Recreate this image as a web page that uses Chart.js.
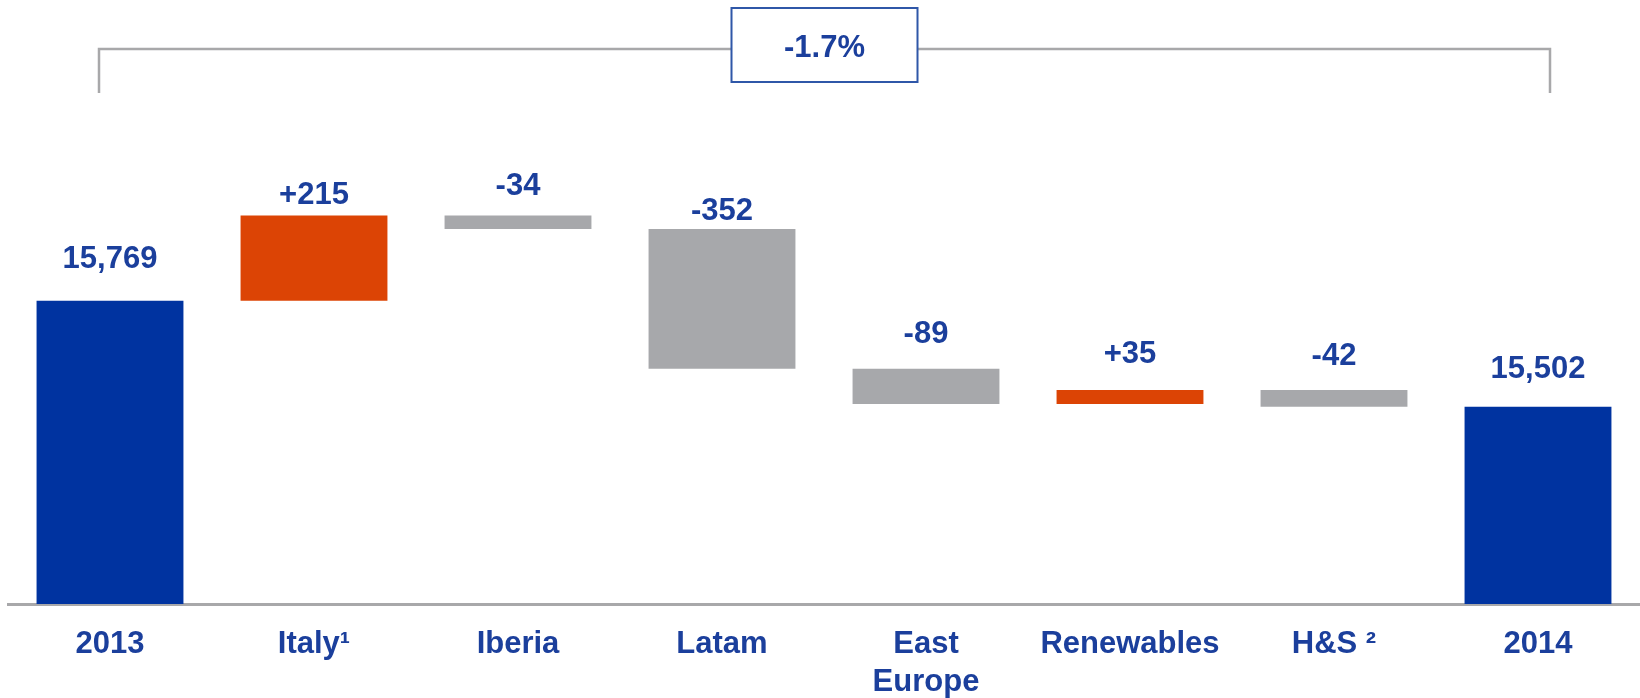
<!DOCTYPE html>
<html>
<head>
<meta charset="utf-8">
<title>EBITDA bridge 2013-2014</title>
<script src="https://cdn.jsdelivr.net/npm/chart.js@4.4.1/dist/chart.umd.min.js"></script>
<style>
    html, body { margin: 0; padding: 0; background: #ffffff; }
    #wrap { position: relative; width: 1640px; height: 698px; }
</style>
</head>
<body>
<div id="wrap"><canvas id="bridgeChart"></canvas></div>
<script>
// Bridge data
const categories = ['2013', 'Italy¹', 'Iberia', 'Latam', ['East', 'Europe'], 'Renewables', 'H&S ²', '2014'];
const startTotal = 15769;
const endTotal = 15502;
const deltas = [215, -34, -352, -89, 35, -42];

const BLUE = '#0033a0';
const TEXT_BLUE = '#1b3f9c';
const ORANGE = '#dc4405';
const GREY = '#a7a8ab';
const LINE_GREY = '#a8a8aa';
const FONT = "'Liberation Sans', Arial, sans-serif";

// floating ranges for the deltas, plain values for the two totals
const barData = [startTotal];
const barColors = [BLUE];
const labels = [startTotal.toLocaleString('en-US')];
let running = startTotal;
deltas.forEach(d => {
    barData.push([running, running + d]);
    barColors.push(d >= 0 ? ORANGE : GREY);
    labels.push((d >= 0 ? '+' : '') + d);
    running += d;
});
barData.push(endTotal);
barColors.push(BLUE);
labels.push(endTotal.toLocaleString('en-US'));

const changePct = ((endTotal - startTotal) / startTotal * 100).toFixed(1) + '%';

const valueLabels = {
    id: 'valueLabels',
    afterDatasetsDraw(chart, args, opts) {
        const ctx = chart.ctx;
        const meta = chart.getDatasetMeta(0);
        ctx.save();
        ctx.font = `bold 31px ${FONT}`;
        ctx.fillStyle = TEXT_BLUE;
        ctx.textAlign = 'center';
        ctx.textBaseline = 'middle';
        meta.data.forEach((bar, i) => {
            const top = Math.min(bar.y, bar.base);
            ctx.fillText(labels[i], bar.x, top - opts.gaps[i]);
        });
        ctx.restore();
    },
};

// bracket over the whole bridge with the overall change in a box
const changeBracket = {
    id: 'changeBracket',
    afterDraw(chart) {
        const ctx = chart.ctx;
        const x = chart.scales.x;
        const left = x.getPixelForValue(0) - 11;
        const right = x.getPixelForValue(categories.length - 1) + 12;
        const y = 49;
        const mid = (left + right) / 2;
        ctx.save();
        ctx.strokeStyle = LINE_GREY;
        ctx.lineWidth = 2.5;
        ctx.beginPath();
        ctx.moveTo(left, 93);
        ctx.lineTo(left, y);
        ctx.lineTo(right, y);
        ctx.lineTo(right, 93);
        ctx.stroke();

        const w = 186, h = 74;
        ctx.fillStyle = '#ffffff';
        ctx.fillRect(mid - w / 2, 8, w, h);
        ctx.strokeStyle = '#2f57a8';
        ctx.lineWidth = 2;
        ctx.strokeRect(mid - w / 2, 8, w, h);

        ctx.font = `bold 31px ${FONT}`;
        ctx.fillStyle = TEXT_BLUE;
        ctx.textAlign = 'center';
        ctx.textBaseline = 'middle';
        ctx.fillText(changePct, mid, 48);
        ctx.restore();
    },
};

new Chart(document.getElementById('bridgeChart'), {
    type: 'bar',
    data: {
        labels: categories,
        datasets: [{
            data: barData,
            backgroundColor: barColors,
            borderWidth: 0,
            borderSkipped: false,
            categoryPercentage: 1,
            barPercentage: 0.72,
        }],
    },
    options: {
        responsive: true,
        maintainAspectRatio: false,
        animation: false,
        layout: {
            padding: { left: 8, right: 0, top: 104, bottom: 0 },
        },
        plugins: {
            legend: { display: false },
            tooltip: { enabled: false },
            valueLabels: {
                gaps: [41, 20, 29, 18, 34, 36, 34, 37],
            },
        },
        scales: {
            x: {
                z: 1,
                grid: { display: false, drawTicks: false },
                border: { display: true, color: LINE_GREY, width: 3 },
                ticks: {
                    color: TEXT_BLUE,
                    font: { family: FONT, size: 31, weight: 'bold', lineHeight: 1.22 },
                    padding: 22,
                    maxRotation: 0,
                    autoSkip: false,
                },
                afterFit(scale) {
                    scale.height = 94;
                },
            },
            y: {
                display: false,
                min: 15005,
                max: 16265,
            },
        },
    },
    plugins: [valueLabels, changeBracket],
});
</script>
</body>
</html>
